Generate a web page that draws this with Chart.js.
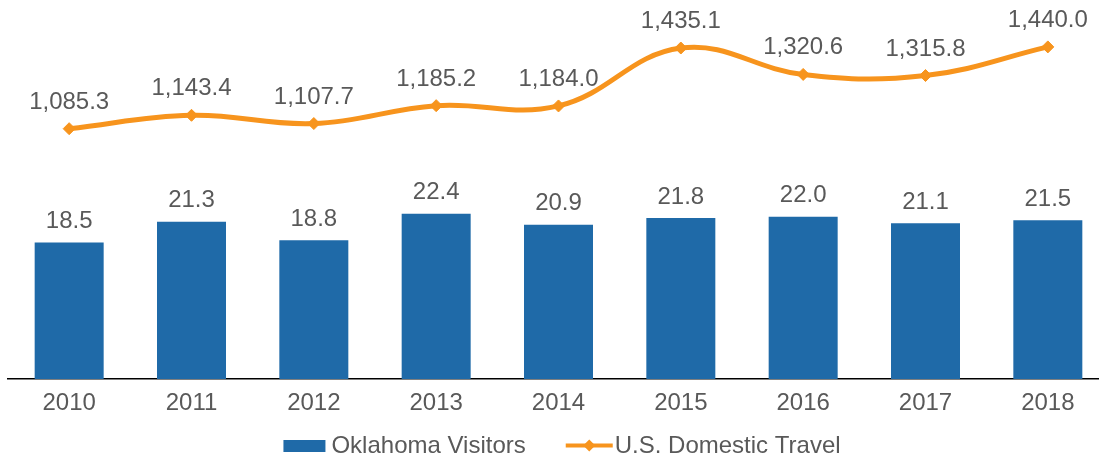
<!DOCTYPE html>
<html>
<head>
<meta charset="utf-8">
<script src="https://cdn.jsdelivr.net/npm/chart.js@4/dist/chart.umd.min.js"></script>
<style>
  html, body { margin: 0; padding: 0; background: #fff; overflow: hidden; }
  #wrap { width: 1099px; height: 458px; overflow: hidden; }
</style>
</head>
<body>
<div id="wrap"><canvas id="chart" width="1116" height="458"></canvas></div>
<script>
const years = ['2010', '2011', '2012', '2013', '2014', '2015', '2016', '2017', '2018'];
const oklahomaVisitors = [18.5, 21.3, 18.8, 22.4, 20.9, 21.8, 22.0, 21.1, 21.5];
const domesticTravel = [1085.3, 1143.4, 1107.7, 1185.2, 1184.0, 1435.1, 1320.6, 1315.8, 1440.0];
const seriesNames = ['Oklahoma Visitors', 'U.S. Domestic Travel'];

const BLUE = '#1f6aa8';
const ORANGE = '#f7941d';
const GRAY = '#595959';
const FONT = '24px "Liberation Sans", Arial, sans-serif';

// value labels above bars and points
const valueLabels = {
  id: 'valueLabels',
  afterDatasetsDraw(chart) {
    const ctx = chart.ctx;
    ctx.save();
    ctx.font = FONT;
    ctx.fillStyle = GRAY;
    ctx.textAlign = 'center';
    ctx.textBaseline = 'alphabetic';
    chart.data.datasets.forEach((ds, i) => {
      const meta = chart.getDatasetMeta(i);
      const gap = ds.type === 'line' ? 20 : 14.5;
      meta.data.forEach((el, j) => {
        const txt = ds.data[j].toLocaleString('en-US', { minimumFractionDigits: 1, maximumFractionDigits: 1 });
        ctx.fillText(txt, el.x, el.y - gap);
      });
    });
    ctx.restore();
  }
};

// legend drawn by hand: box for bars, line with diamond for the line series
const customLegend = {
  id: 'customLegend',
  afterDraw(chart) {
    const ctx = chart.ctx;
    ctx.save();
    ctx.font = FONT;
    const w1 = ctx.measureText(seriesNames[0]).width;
    const w2 = ctx.measureText(seriesNames[1]).width;
    const total = 42 + 6 + w1 + 40 + 47 + 2 + w2;
    const mid = 562;
    let x = mid - total / 2;
    const base = 453;

    ctx.fillStyle = BLUE;
    ctx.fillRect(x, 440, 42, 12);
    x += 48;
    ctx.fillStyle = GRAY;
    ctx.textAlign = 'left';
    ctx.fillText(seriesNames[0], x, base);
    x += w1 + 40;

    ctx.strokeStyle = ORANGE;
    ctx.lineWidth = 4;
    ctx.beginPath();
    ctx.moveTo(x, 445.5);
    ctx.lineTo(x + 47, 445.5);
    ctx.stroke();
    ctx.fillStyle = ORANGE;
    const cx = x + 23.5;
    ctx.beginPath();
    ctx.moveTo(cx - 6, 445.5);
    ctx.lineTo(cx, 439.5);
    ctx.lineTo(cx + 6, 445.5);
    ctx.lineTo(cx, 451.5);
    ctx.closePath();
    ctx.fill();
    x += 49;
    ctx.fillStyle = GRAY;
    ctx.fillText(seriesNames[1], x, base);
    ctx.restore();
  }
};

new Chart(document.getElementById('chart'), {
  data: {
    labels: years,
    datasets: [
      {
        type: 'line',
        label: seriesNames[1],
        data: domesticTravel,
        yAxisID: 'yLine',
        borderColor: ORANGE,
        backgroundColor: ORANGE,
        borderWidth: 5,
        tension: 0.4,
        pointStyle: 'rectRot',
        pointRadius: 6,
        pointBorderWidth: 1,
        pointBackgroundColor: ORANGE,
        pointBorderColor: ORANGE,
        order: 0
      },
      {
        type: 'bar',
        label: seriesNames[0],
        data: oklahomaVisitors,
        yAxisID: 'yBar',
        backgroundColor: BLUE,
        borderWidth: 0,
        barPercentage: 0.564,
        categoryPercentage: 1,
        order: 1
      }
    ]
  },
  options: {
    responsive: false,
    animation: false,
    layout: { padding: { top: 10, left: 8, right: 3, bottom: 0 } },
    plugins: {
      legend: { display: false },
      tooltip: { enabled: false }
    },
    scales: {
      x: {
        grid: { display: false },
        border: { display: true, color: '#000', width: 1.5 },
        ticks: { color: GRAY, font: { family: '"Liberation Sans", Arial, sans-serif', size: 24 }, padding: 2, autoSkip: false, maxRotation: 0 },
        afterFit(scale) { scale.height = 79; }
      },
      yBar: { display: false, min: 0, max: 50 },
      yLine: { display: false, min: 0, max: 1600 }
    }
  },
  plugins: [valueLabels, customLegend]
});
</script>
</body>
</html>
